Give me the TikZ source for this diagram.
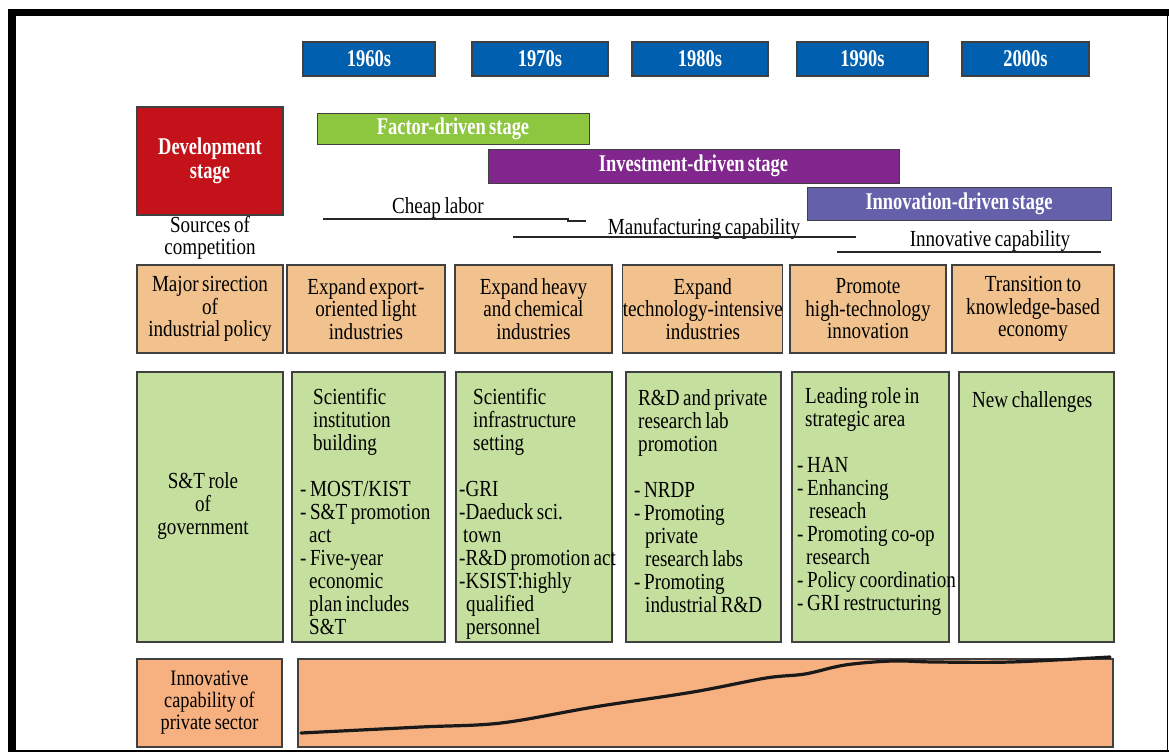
\documentclass[tikz,border=0pt]{standalone}
\usepackage{fontspec}
\setmainfont[FakeStretch=0.83,WordSpace=0.75]{Liberation Serif}
\newfontfamily\headfont[FakeStretch=0.77,WordSpace=0.7]{Liberation Serif}
\usetikzlibrary{positioning}
\definecolor{decblue}{RGB}{0,96,175}
\definecolor{devred}{RGB}{196,18,26}
\definecolor{factgreen}{RGB}{141,198,63}
\definecolor{invpurple}{RGB}{128,38,140}
\definecolor{innovblue}{RGB}{100,96,170}
\definecolor{polorange}{RGB}{242,194,142}
\definecolor{rolegreen}{RGB}{197,223,158}
\definecolor{privsalmon}{RGB}{247,176,128}
\tikzset{
    chart/.style={x=1pt,y=-1pt,line join=miter},
    head/.style={rectangle,draw=black!75,line width=1.2pt,inner sep=0pt,text=white,
                 font={\headfont\bfseries\fontsize{24}{24}\selectfont}},
    decade/.style={head,fill=decblue,minimum height=34pt},
    stagebar/.style={head,line width=1pt},
    cell/.style={rectangle,draw=black!75,line width=1.2pt,inner sep=0pt,align=center,
                 font=\fontsize{23}{22.5}\selectfont},
    policy/.style={cell,fill=polorange,minimum height=88pt},
    role/.style={cell,fill=rolegreen,minimum height=270pt},
    priv/.style={cell,fill=privsalmon,minimum height=88pt},
    roletext/.style={anchor=base west,inner sep=0pt,text width=200pt,align=flush left,
                 font={\fontsize{23}{23}\selectfont}},
    plain/.style={inner sep=0pt,font=\fontsize{23}{22}\selectfont},
    uline/.style={line width=1.2pt,black!85},
    }
\begin{document}
\begin{tikzpicture}[chart]
    \useasboundingbox (0,0) rectangle (1169,752);
    \fill[white] (0,0) rectangle (1169,752);
    \fill[black] (8,9) rectangle (1169,16.5);
    \fill[black] (8,9) rectangle (16,752);
    \draw[line width=1.3pt] (1167.8,16) -- (1167.8,752);
    \draw[line width=1.5pt] (8,750.8) -- (1169,750.8);

    \node[decade, minimum width=132pt] (d60) at (369,59) {1960s};
    \node[decade, minimum width=136pt] (d70) at (540,59) {1970s};
    \node[decade, minimum width=136pt] (d80) at (700,59) {1980s};
    \node[decade, minimum width=131pt] (d90) at (862.5,59) {1990s};
    \node[decade, minimum width=127pt] (d00) at (1025.5,59) {2000s};

    \node[head, fill=devred, align=center, minimum width=146pt, minimum height=108pt] (devstage) at (210,161)
          {Development\\stage};
    \node[stagebar, fill=factgreen, minimum width=272pt, minimum height=31pt] (factor) at (453,128.5) {Factor-driven stage};
    \node[stagebar, fill=invpurple, minimum width=411pt, minimum height=34pt] (invest) at (693.5,166) {Investment-driven stage};
    \node[stagebar, fill=innovblue, minimum width=304pt, minimum height=33pt] (innov) at (959,203.5) {Innovation-driven stage};

    \node[plain, anchor=base] (cheap) at (438,213) {Cheap labor};
    \node[plain, anchor=base] (manuf) at (704,234) {Manufacturing capability};
    \node[plain, anchor=base] (innovcap) at (990,246) {Innovative capability};
    \draw[uline] (323,219) -- (568,219) -- (568,221) -- (586,221);
    \draw[uline] (513,237) -- (856,237);
    \draw[uline] (837,252) -- (1101,252);
    \node[plain, anchor=base, text width=150pt, align=flush center] (sources) at (210,232) {Sources of\\competition};

    \node[policy, minimum width=146pt] (pol0) at (210,309) {Major sirection\\of\\industrial policy};
    \node[policy, minimum width=158pt] (pol1) at (366,309) {Expand export-\\oriented light\\industries};
    \node[policy, minimum width=157pt] (pol2) at (533.5,309) {Expand heavy\\and chemical\\industries};
    \node[policy, minimum width=158pt] (pol3) at (702.8,309) {Expand\\technology-intensive\\industries};
    \node[policy, minimum width=156pt] (pol4) at (868,309) {Promote\\high-technology\\innovation};
    \node[policy, minimum width=162pt] (pol5) at (1033,309) {Transition to\\knowledge-based\\economy};

    \node[role, minimum width=146pt] (role0) at (210,507) {};
    \node[role, minimum width=153pt] (role1) at (368.5,507) {};
    \node[role, minimum width=156pt] (role2) at (534,507) {};
    \node[role, minimum width=155pt] (role3) at (703.5,507) {};
    \node[role, minimum width=157pt] (role4) at (870.5,507) {};
    \node[role, minimum width=155pt] (role5) at (1036.5,507) {};

    \node[plain, align=center, font=\fontsize{23}{23}\selectfont] (rtxt0) at (203,506) {S\&T role\\of\\government};
    \node[roletext] (rtxt1) at (300,404) {\hspace*{13pt}Scientific\\\hspace*{13pt}institution\\\hspace*{13pt}building\\~\\- MOST/KIST\\- S\&T promotion\\\hspace*{9pt}act\\- Five-year\\\hspace*{9pt}economic\\\hspace*{9pt}plan includes\\\hspace*{9pt}S\&T};
    \node[roletext] (rtxt2) at (459,404) {\hspace*{14pt}Scientific\\\hspace*{14pt}infrastructure\\\hspace*{14pt}setting\\~\\-GRI\\-Daeduck sci.\\\hspace*{4pt}town\\-R\&D promotion act\\-KSIST:highly\\\hspace*{7pt}qualified\\\hspace*{7pt}personnel};
    \node[roletext] (rtxt3) at (634,405) {\hspace*{4pt}R\&D and private\\\hspace*{4pt}research lab\\\hspace*{4pt}promotion\\~\\- NRDP\\- Promoting\\\hspace*{11pt}private\\\hspace*{11pt}research labs\\- Promoting\\\hspace*{11pt}industrial R\&D};
    \node[roletext] (rtxt4) at (797,403) {\hspace*{8pt}Leading role in\\\hspace*{8pt}strategic area\\~\\- HAN\\- Enhancing\\\hspace*{12pt}reseach\\- Promoting co-op\\\hspace*{9pt}research\\- Policy coordination\\- GRI restructuring};
    \node[roletext] (rtxt5) at (972,407) {New challenges};

    \node[priv, minimum width=145pt, font=\fontsize{22}{22}\selectfont] (priv0) at (209.5,703) {Innovative\\capability of\\private sector};
    \node[priv, minimum width=815pt] (priv1) at (705.5,703) {};
    \draw[line width=3.2pt, black!90, line cap=round] plot[smooth, tension=0.55] coordinates {
        (301,733) (421,727) (501,723) (594,707) (693,692) (766,678) (805,674)
        (845,665) (892,661) (935,662) (1011,662) (1110,657)};
\end{tikzpicture}
\end{document}
